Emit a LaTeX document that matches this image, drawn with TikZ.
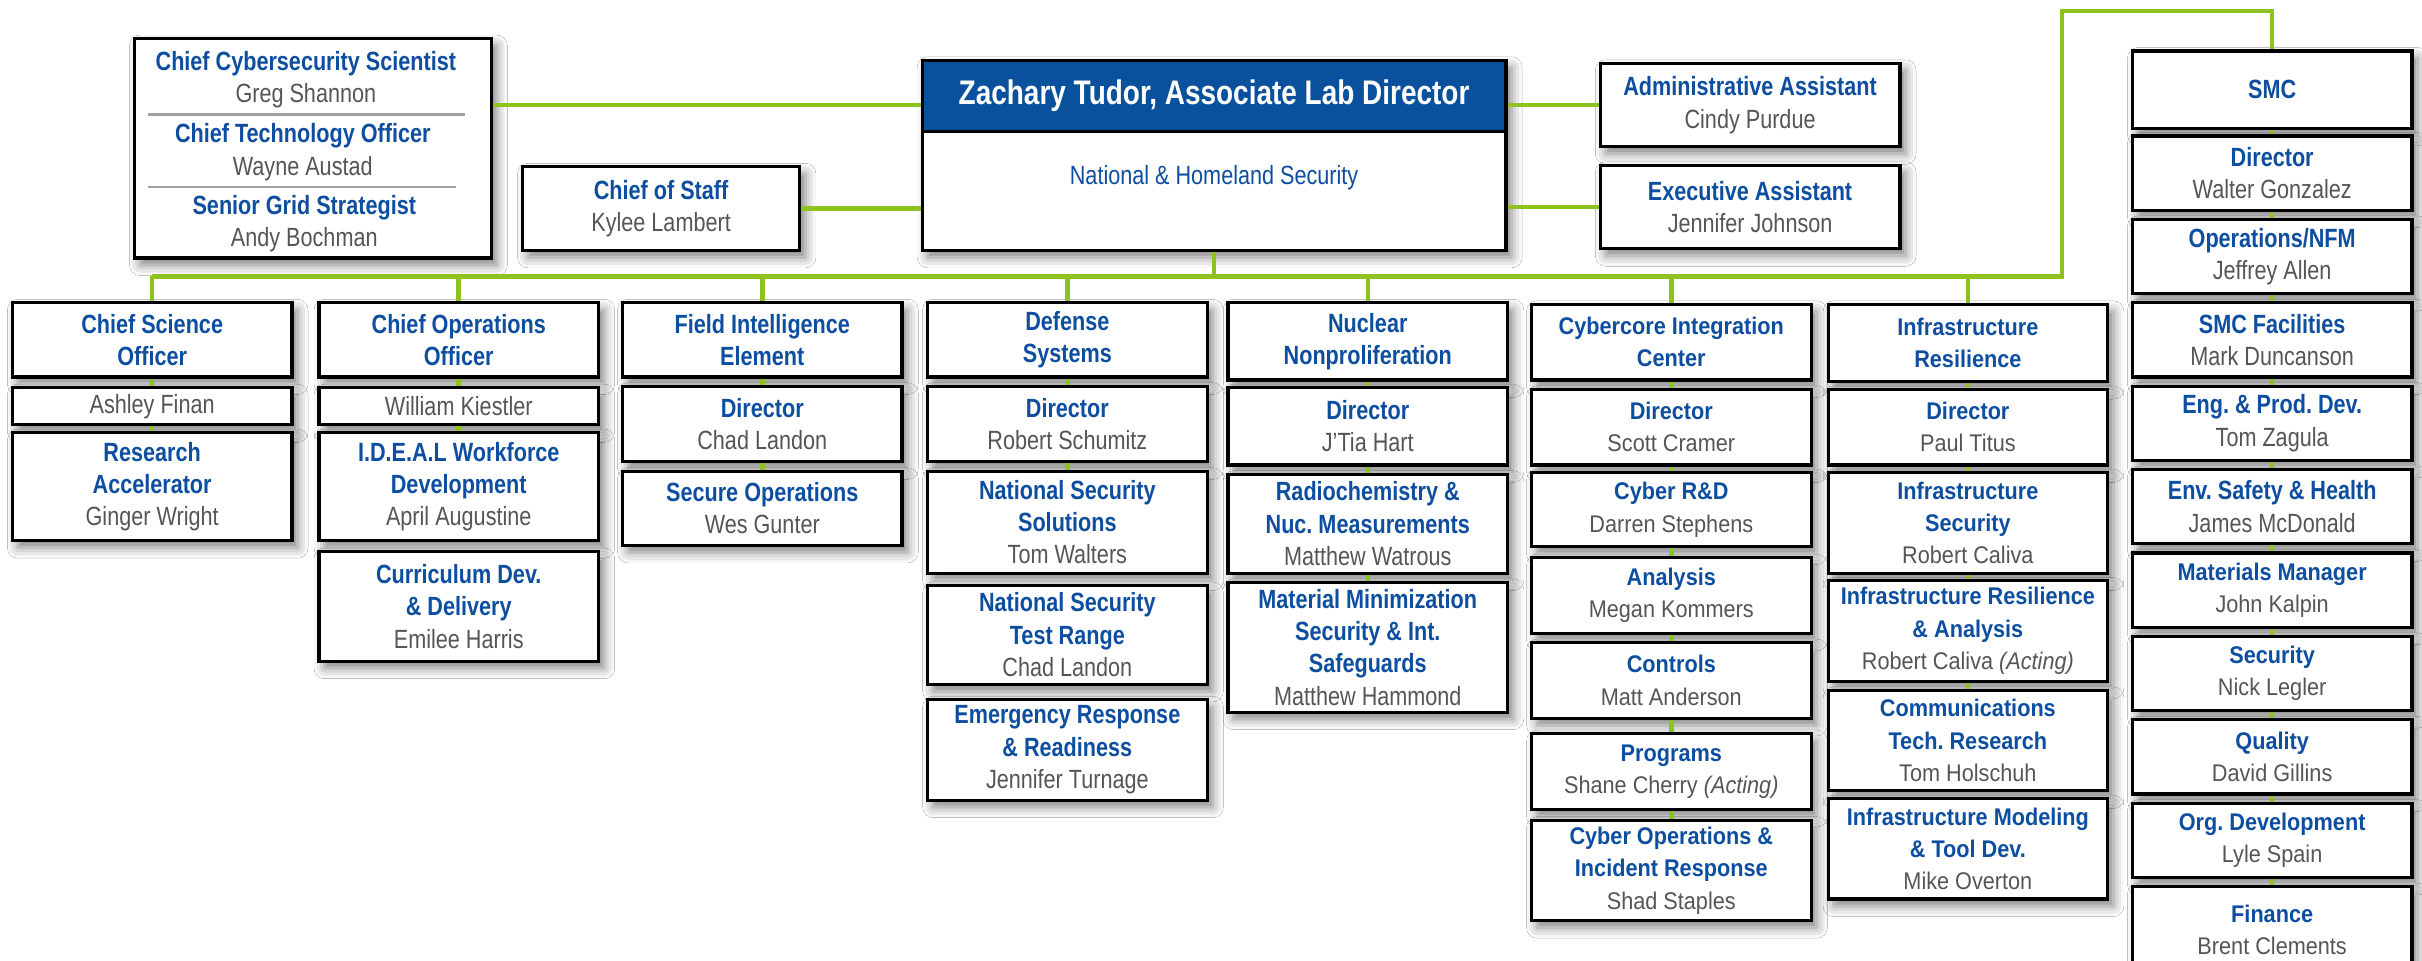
\documentclass[tikz,border=0pt]{standalone}
\usepackage{fontspec}
\usepackage{xcolor}
\usetikzlibrary{calc,shadows.blur}
\setmainfont{Liberation Sans}
\newfontfamily\narrowfont[FakeStretch=0.82]{Liberation Sans}
\newfontfamily\plainfont[FakeStretch=0.9]{Liberation Sans}

\definecolor{titleblue}{HTML}{0D4EA0}
\definecolor{headblue}{HTML}{0A519D}
\definecolor{namegray}{HTML}{555555}
\definecolor{linkgreen}{HTML}{8DC21F}
\definecolor{sepgray}{HTML}{A0A0A0}

\newlength\px
\setlength\px{0.015446cm}
\newcommand\narrowtext{\narrowfont\fontsize{7.5pt}{9.2pt}\selectfont\frenchspacing}
\newcommand\plaintext{\plainfont\fontsize{6.85pt}{9.2pt}\selectfont\frenchspacing}
\newcommand\ttl[1]{{\color{titleblue}\bfseries #1}}
\newcommand\who[1]{{\color{namegray}#1}}

\tikzset{
  orgbox/.style={draw=black, line width=0.9pt, fill=white, anchor=north,
    minimum width=181\px, text width=175\px, inner sep=1pt, align=flush center,
    font=\narrowtext,
    blur shadow={shadow xshift=1.6pt, shadow yshift=-2pt,
      shadow blur radius=3pt, shadow opacity=50}},
  plainbox/.style={orgbox, font=\plaintext},
  ht/.style={minimum height=#1\px},
  link/.style={draw=linkgreen, line width=1.3pt},
}

\begin{document}
\begin{tikzpicture}[x=0.015446cm, y=-0.015446cm]
	\useasboundingbox[fill=white] (0,0) rectangle (1568,622);
	\clip (0,0) rectangle (1568,622);

	% leadership row
	\node[orgbox, minimum width=378\px, text width=370\px, ht=123] (main) at (786,38) {};
	\node[draw=black, line width=0.9pt, fill=headblue, anchor=north, inner sep=0pt,
		minimum width=378\px, ht=46, text=white,
		font=\narrowfont\bfseries\fontsize{9.7pt}{11pt}\selectfont] (mainhead) at (main.north)
		{Zachary Tudor, Associate Lab Director};
	\node[font=\narrowtext, text=titleblue] (mainunit) at (786,115) {National \& Homeland Security};

	\node[orgbox, minimum width=231\px, text width=225\px, ht=142] (adv) at (202.5,24) {};
	\node[font=\narrowtext, align=center] (ccs) at (198,51.5) {\ttl{Chief Cybersecurity Scientist}\\\who{Greg Shannon}};
	\node[font=\narrowtext, align=center] (cto) at (196,98.5) {\ttl{Chief Technology Officer}\\\who{Wayne Austad}};
	\node[font=\narrowtext, align=center] (sgs) at (197,145) {\ttl{Senior Grid Strategist}\\\who{Andy Bochman}};
	\draw[sepgray, line width=0.7pt] (96,74) -- (301,74);
	\draw[sepgray, line width=0.7pt] (96,121) -- (295,121);

	\node[orgbox, minimum width=174\px, ht=54] (cos) at (428,107) {\ttl{Chief of Staff}\\\who{Kylee Lambert}};
	\node[orgbox, minimum width=194\px, text width=188\px, ht=54] (admin) at (1133,40) {\ttl{Administrative Assistant}\\\who{Cindy Purdue}};
	\node[orgbox, minimum width=194\px, text width=188\px, ht=54] (exec) at (1133,106) {\ttl{Executive Assistant}\\\who{Jennifer Johnson}};

	% column 1
	\node[orgbox, ht=48] (cso) at (98.5,195) {\ttl{Chief Science\\Officer}};
	\node[orgbox, ht=24] (finan) at (98.5,250) {\who{Ashley Finan}};
	\node[orgbox, ht=70] (racc) at (98.5,279) {\ttl{Research\\Accelerator}\\\who{Ginger Wright}};
	% column 2
	\node[orgbox, ht=48] (coo) at (297,195) {\ttl{Chief Operations\\Officer}};
	\node[orgbox, ht=24] (kiestler) at (297,250) {\who{William Kiestler}};
	\node[orgbox, ht=70] (ideal) at (297,279) {\ttl{I.D.E.A.L Workforce\\Development}\\\who{April Augustine}};
	\node[orgbox, ht=71] (curric) at (297,356) {\ttl{Curriculum Dev.\\\& Delivery}\\\who{Emilee Harris}};
	% column 3
	\node[orgbox, ht=48] (fie) at (493.5,195) {\ttl{Field Intelligence\\Element}};
	\node[orgbox, ht=49] (fiedir) at (493.5,249) {\ttl{Director}\\\who{Chad Landon}};
	\node[orgbox, ht=48] (secops) at (493.5,304) {\ttl{Secure Operations}\\\who{Wes Gunter}};
	% column 4
	\node[orgbox, ht=48] (def) at (691,195) {\ttl{Defense\\Systems}};
	\node[orgbox, ht=49] (defdir) at (691,249) {\ttl{Director}\\\who{Robert Schumitz}};
	\node[orgbox, ht=66] (nss) at (691,304) {\ttl{National Security\\Solutions}\\\who{Tom Walters}};
	\node[orgbox, ht=64] (nstr) at (691,378) {\ttl{National Security\\Test Range}\\\who{Chad Landon}};
	\node[orgbox, ht=65] (emerg) at (691,452) {\ttl{Emergency Response\\\& Readiness}\\\who{Jennifer Turnage}};
	% column 5
	\node[orgbox, ht=50] (nuc) at (885.5,195) {\ttl{Nuclear\\Nonproliferation}};
	\node[orgbox, ht=50] (nucdir) at (885.5,250) {\ttl{Director}\\\who{J’Tia Hart}};
	\node[orgbox, ht=64] (radio) at (885.5,306) {\ttl{Radiochemistry \&\\Nuc. Measurements}\\\who{Matthew Watrous}};
	\node[orgbox, ht=84] (matmin) at (885.5,376) {\ttl{Material Minimization\\Security \& Int.\\Safeguards}\\\who{Matthew Hammond}};
	% column 6
	\node[plainbox, ht=49] (cyber) at (1082,196) {\ttl{Cybercore Integration\\Center}};
	\node[plainbox, ht=49] (cybdir) at (1082,251) {\ttl{Director}\\\who{Scott Cramer}};
	\node[plainbox, ht=48] (cybrd) at (1082,305) {\ttl{Cyber R\&D}\\\who{Darren Stephens}};
	\node[plainbox, ht=49] (analysis) at (1082,360) {\ttl{Analysis}\\\who{Megan Kommers}};
	\node[plainbox, ht=49] (controls) at (1082,415) {\ttl{Controls}\\\who{Matt Anderson}};
	\node[plainbox, ht=49] (programs) at (1082,474) {\ttl{Programs}\\\who{Shane Cherry \textit{(Acting)}}};
	\node[plainbox, ht=65] (cybops) at (1082,530) {\ttl{Cyber Operations \&\\Incident Response}\\\who{Shad Staples}};
	% column 7
	\node[plainbox, ht=50] (infra) at (1274,196) {\ttl{Infrastructure\\Resilience}};
	\node[plainbox, ht=49] (infdir) at (1274,251) {\ttl{Director}\\\who{Paul Titus}};
	\node[plainbox, ht=65] (infsec) at (1274,305) {\ttl{Infrastructure\\Security}\\\who{Robert Caliva}};
	\node[plainbox, ht=65] (ira) at (1274,375) {\ttl{Infrastructure Resilience\\\& Analysis}\\\who{Robert Caliva \textit{(Acting)}}};
	\node[plainbox, ht=65] (comm) at (1274,446) {\ttl{Communications\\Tech. Research}\\\who{Tom Holschuh}};
	\node[plainbox, ht=65] (model) at (1274,516) {\ttl{Infrastructure Modeling\\\& Tool Dev.}\\\who{Mike Overton}};
	% column 8 (SMC)
	\node[orgbox, ht=50] (smc) at (1471,32) {\ttl{SMC}};
	\node[orgbox, ht=48] (smcdir) at (1471,87) {\ttl{Director}\\\who{Walter Gonzalez}};
	\node[orgbox, ht=48] (ops) at (1471,141) {\ttl{Operations/NFM}\\\who{Jeffrey Allen}};
	\node[orgbox, ht=48] (fac) at (1471,195) {\ttl{SMC Facilities}\\\who{Mark Duncanson}};
	\node[orgbox, ht=48] (eng) at (1471,249) {\ttl{Eng. \& Prod. Dev.}\\\who{Tom Zagula}};
	\node[orgbox, ht=48] (ehs) at (1471,303) {\ttl{Env. Safety \& Health}\\\who{James McDonald}};
	\node[plainbox, ht=48] (matmgr) at (1471,357) {\ttl{Materials Manager}\\\who{John Kalpin}};
	\node[plainbox, ht=48] (secur) at (1471,411) {\ttl{Security}\\\who{Nick Legler}};
	\node[plainbox, ht=48] (quality) at (1471,465) {\ttl{Quality}\\\who{David Gillins}};
	\node[plainbox, ht=48] (orgdev) at (1471,519) {\ttl{Org. Development}\\\who{Lyle Spain}};
	\node[plainbox, ht=56] (finance) at (1471,573) {\ttl{Finance}\\\who{Brent Clements}};

	% connectors
	\coordinate (advrow) at (0,68);
	\coordinate (busL) at (98.5,179);
	\coordinate (busR) at (1335,179);
	\coordinate (smcturn) at (1335,7);
	\draw[link] (adv.east |- advrow) -- (main.west |- advrow);
	\draw[link] (cos.east) -- (cos.east -| main.west);
	\draw[link] (main.east |- admin.west) -- (admin.west);
	\draw[link] (main.east |- exec.west) -- (exec.west);
	\draw[link] (main.south) -- (main.south |- busL);
	\draw[link] (cso.north |- busL) -- (busR) -- (smcturn) -| (smc.north);
	\foreach \c in {cso,coo,fie,def,nuc,cyber,infra}
		\draw[link] (\c.north |- busL) -- (\c.north);
	\foreach \a/\b in {cso/finan,finan/racc,coo/kiestler,kiestler/ideal,
		fie/fiedir,fiedir/secops,def/defdir,defdir/nss,
		nuc/nucdir,nucdir/radio,radio/matmin,
		cyber/cybdir,cybdir/cybrd,cybrd/analysis,analysis/controls,controls/programs,programs/cybops,
		infra/infdir,infdir/infsec,infsec/ira,ira/comm,
		smc/smcdir,smcdir/ops,ops/fac,fac/eng,eng/ehs,ehs/matmgr,matmgr/secur,secur/quality,quality/orgdev,orgdev/finance}
		\draw[link] (\a.south) -- (\b.north);
\end{tikzpicture}
\end{document}
